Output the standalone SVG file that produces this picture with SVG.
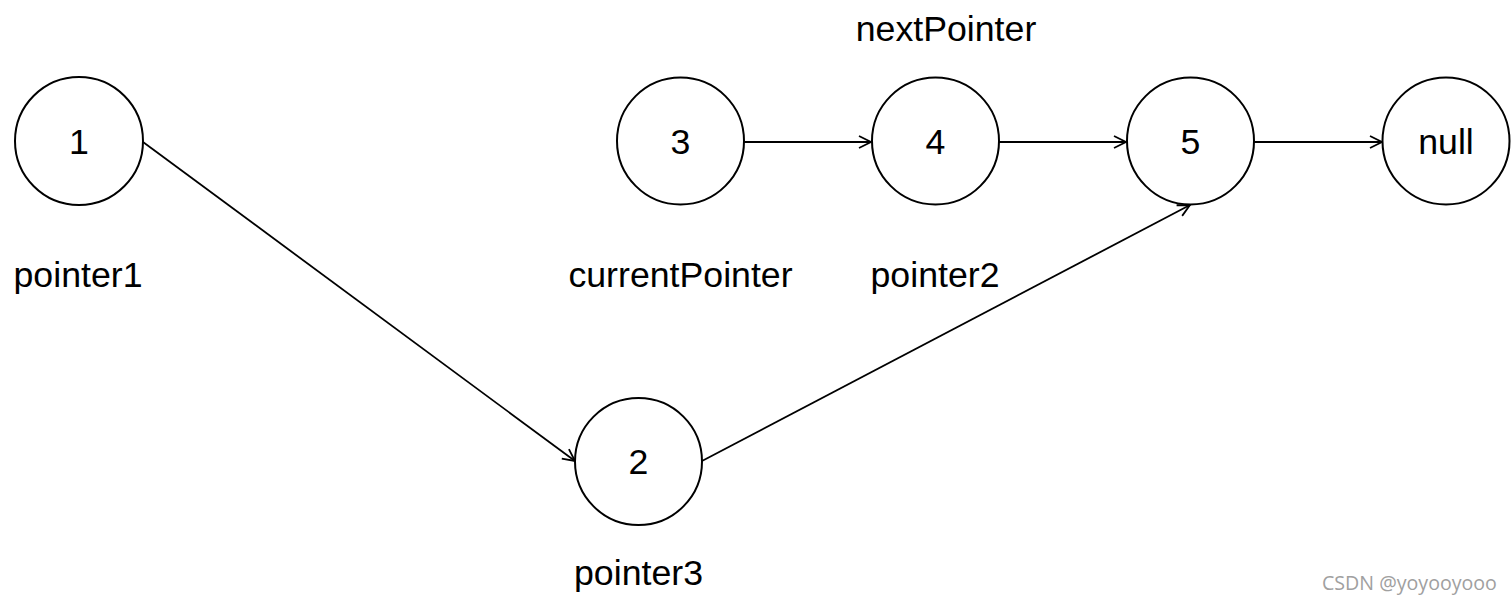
<svg xmlns="http://www.w3.org/2000/svg" width="1511" height="603" viewBox="0 0 1511 603">
<style>
.n{fill:#fff;stroke:#000;stroke-width:2}
.t{font-family:"Liberation Sans",Arial,sans-serif;font-size:35.7px;fill:#000;text-anchor:middle}
.e{fill:none;stroke:#000;stroke-width:1.8}
.w{font-family:"Open Sans","Noto Sans",sans-serif;font-size:19.6px;fill:#a0a0a0}
</style>
<defs>
<marker id="a" viewBox="0 0 14 14" refX="13" refY="7" markerWidth="14" markerHeight="14" markerUnits="userSpaceOnUse" orient="auto">
<path d="M1,1 L13,7 L1,13" fill="none" stroke="#000" stroke-width="1.8"/>
</marker>
</defs>
<rect width="1511" height="603" fill="#fff"/>
<g id="connectors">
<line class="e" x1="143" y1="142" x2="575" y2="461" marker-end="url(#a)"/>
<line class="e" x1="702" y1="461" x2="1190" y2="205" marker-end="url(#a)"/>
<line class="e" x1="744" y1="142" x2="871" y2="142" marker-end="url(#a)"/>
<line class="e" x1="999" y1="142" x2="1126" y2="142" marker-end="url(#a)"/>
<line class="e" x1="1254" y1="142" x2="1382" y2="142" marker-end="url(#a)"/>
</g>
<g id="node1"><circle class="n" cx="79" cy="141" r="64"/><text class="t" x="79" y="154">1</text></g>
<g id="node2"><circle class="n" cx="638.5" cy="461.5" r="63.5"/><text class="t" x="638.5" y="474">2</text></g>
<g id="node3"><circle class="n" cx="680.5" cy="141" r="63.5"/><text class="t" x="680.5" y="154">3</text></g>
<g id="node4"><circle class="n" cx="935.5" cy="141" r="63.5"/><text class="t" x="935.5" y="154">4</text></g>
<g id="node5"><circle class="n" cx="1190.5" cy="141" r="63.5"/><text class="t" x="1190.5" y="154">5</text></g>
<g id="nodeNull"><circle class="n" cx="1446" cy="141" r="63.5"/><text class="t" x="1446" y="154">null</text></g>
<g id="labels">
<text class="t" x="78" y="287">pointer1</text>
<text class="t" x="680.5" y="287">currentPointer</text>
<text class="t" x="935" y="287">pointer2</text>
<text class="t" x="946" y="41">nextPointer</text>
<text class="t" x="638.5" y="585">pointer3</text>
</g>
<text class="w" x="1322" y="590">CSDN @yoyooyooo</text>
</svg>
